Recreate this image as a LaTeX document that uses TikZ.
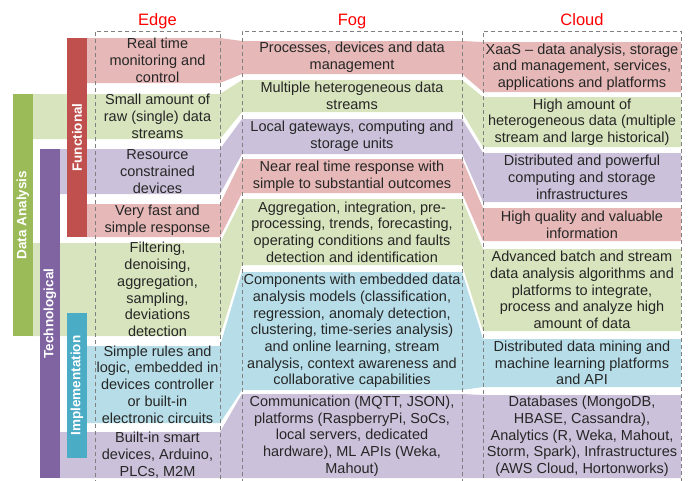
\documentclass[tikz,border=0pt]{standalone}
\usepackage{fontspec}
\setmainfont{Liberation Sans}
\usetikzlibrary{positioning}

\definecolor{redband}{HTML}{E6B9B8}
\definecolor{greenband}{HTML}{D7E4BD}
\definecolor{purpleband}{HTML}{CCC1DA}
\definecolor{tealband}{HTML}{B7DEE8}
\definecolor{redbar}{HTML}{C0504D}
\definecolor{greenbar}{HTML}{9BBB59}
\definecolor{purplebar}{HTML}{8064A2}
\definecolor{tealbar}{HTML}{4BACC6}

\tikzset{
  cell/.style={align=center,inner sep=0pt,text=black!85,
    font=\fontsize{14.5}{16.7}\selectfont},
  heading/.style={anchor=base,text=red,font=\fontsize{16.5}{19}\selectfont},
  bar/.style={fill=#1,rotate=90,minimum height=20pt,inner sep=0pt,
    text=white,font=\bfseries\fontsize{13.5}{15}\selectfont},
  column/.style={draw=black!50,dash pattern=on 4pt off 3pt,line width=0.8pt,
    anchor=north west,minimum height=470pt},
}

% colour, start, edge top/bottom, fog top/bottom, cloud top/bottom
\newcommand\flowband[8]{%
  \fill[#1] (#2,#3) -- (220,#3) -- (242,#5) -- (462,#5) -- (483,#7) -- (681,#7)
    -- (681,#8) -- (483,#8) -- (462,#6) -- (242,#6) -- (220,#4) -- (#2,#4) -- cycle;}

\begin{document}
\begin{tikzpicture}[x=1pt,y=-1pt]
\useasboundingbox (0,0) rectangle (691,480);

\flowband{redband}{87}{38}{83}{41}{74}{42}{92}
\flowband{greenband}{33}{94}{139}{80}{112}{97}{147}
\flowband{purpleband}{59}{149}{194}{119}{154}{153}{202}
\flowband{redband}{87}{204}{237}{159}{193}{208}{241}
\flowband{greenband}{33}{243}{336}{199}{265}{249}{331}
\flowband{tealband}{87}{346}{423}{272}{390}{339}{387}
\flowband{purpleband}{59}{432}{478}{394}{478}{395}{478}

\node[column,minimum width=125pt] (edgecol) at (95,31) {};
\node[column,minimum width=220pt] (fogcol) at (242,31) {};
\node[column,minimum width=198pt] (cloudcol) at (483,31) {};
\node[heading] (edge) at (157.5,25) {Edge};
\node[heading] (fog) at (352,25) {Fog};
\node[heading] (cloud) at (582,25) {Cloud};

\node[bar=greenbar,minimum width=242pt] (analysis) at (23,215) {Data Analysis};
\node[bar=purplebar,minimum width=329pt] (technological) at (50,313.5) {Technological};
\node[bar=redbar,minimum width=199pt] (functional) at (77,137.5) {Functional};
\node[bar=tealbar,minimum width=145pt] (implementation) at (77,385.5) {Implementation};

\node[cell] (e1) at (157.5,60.5) {Real time\\monitoring and\\control};
\node[cell] (e2) at (157.5,116.5) {Small amount of\\raw (single) data\\streams};
\node[cell] (e3) at (157.5,171.5) {Resource\\constrained\\devices};
\node[cell] (e4) at (157.5,220.5) {Very fast and\\simple response};
\node[cell] (e5) at (157.5,289.5) {Filtering,\\denoising,\\aggregation,\\sampling,\\deviations\\detection};
\node[cell] (e6) at (157.5,384.5) {Simple rules and\\logic, embedded in\\devices controller\\or built-in\\electronic circuits};
\node[cell] (e7) at (157.5,455) {Built-in smart\\devices, Arduino,\\PLCs, M2M};

\node[cell] (f1) at (352,57.5) {Processes, devices and data\\management};
\node[cell] (f2) at (352,96) {Multiple heterogeneous data\\streams};
\node[cell] (f3) at (352,136.5) {Local gateways, computing and\\storage units};
\node[cell] (f4) at (352,176) {Near real time response with\\simple to substantial outcomes};
\node[cell] (f5) at (352,232) {Aggregation, integration, pre-\\processing, trends, forecasting,\\operating conditions and faults\\detection and identification};
\node[cell] (f6) at (352,331) {Components with embedded data\\analysis models (classification,\\regression, anomaly detection,\\clustering, time-series analysis)\\and online learning, stream\\analysis, context awareness and\\collaborative capabilities};
\node[cell] (f7) at (352,436) {Communication (MQTT, JSON),\\platforms (RaspberryPi, SoCs,\\local servers, dedicated\\hardware), ML APIs (Weka,\\Mahout)};

\node[cell] (c1) at (582,67) {XaaS – data analysis, storage\\and management, services,\\applications and platforms};
\node[cell] (c2) at (582,122) {High amount of\\heterogeneous data (multiple\\stream and large historical)};
\node[cell] (c3) at (582,177.5) {Distributed and powerful\\computing and storage\\infrastructures};
\node[cell] (c4) at (582,224.5) {High quality and valuable\\information};
\node[cell] (c5) at (582,290) {Advanced batch and stream\\data analysis algorithms and\\platforms to integrate,\\process and analyze high\\amount of data};
\node[cell] (c6) at (582,363) {Distributed data mining and\\machine learning platforms\\and API};
\node[cell] (c7) at (582,436.5) {Databases (MongoDB,\\HBASE, Cassandra),\\Analytics (R, Weka, Mahout,\\Storm, Spark), Infrastructures\\(AWS Cloud, Hortonworks)};
\end{tikzpicture}
\end{document}
